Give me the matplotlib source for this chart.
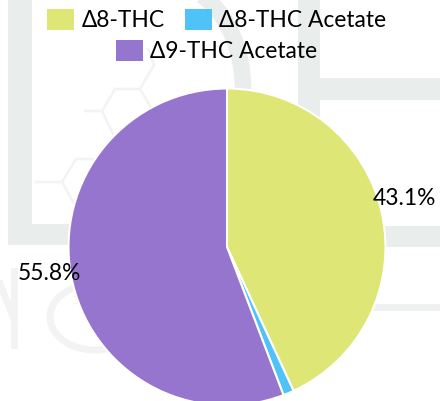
import matplotlib
matplotlib.use('Agg')
import matplotlib.pyplot as plt
from matplotlib.patches import Rectangle, Arc

categories = ['Δ8-THC', 'Δ8-THC Acetate', 'Δ9-THC Acetate']
values = [43.1, 1.1, 55.8]
colors = ['#dee676', '#4fc3f7', '#9575cd']

plt.rcParams['font.family'] = ['Lato', 'DejaVu Sans']
H = 402
fig = plt.figure(figsize=(4.4, 4.02), dpi=100)
ax = fig.add_axes([0, 0, 1, 1])

# faint watermark behind the chart
wm = '#e9edeb'
wm2 = '#f2f3f2'
def band(x0, y0, x1, y1, c=wm):
    ax.add_patch(Rectangle((x0, H - y1), x1 - x0, y1 - y0, color=c, lw=0, zorder=0))
def stroke(pts, lw=1.8):
    ax.plot([p[0] for p in pts], [H - p[1] for p in pts], color=wm2, lw=lw, zorder=0)
band(8, 0, 32, 246)
band(8, 225, 240, 246)
band(298, 0, 320, 120)
band(298, 79, 440, 101)
band(385, 227, 440, 248)
band(370, 305, 440, 312, '#eff0f0')
ax.add_patch(Arc((168, H - 90), 150, 210, theta1=0, theta2=70, color=wm, lw=12, zorder=0))
# lower letters
stroke([(0, 285), (14, 320)], 5)
stroke([(14, 272), (14, 346)], 5)
ax.add_patch(Arc((95, H - 318), 90, 66, theta1=70, theta2=290, color=wm2, lw=5, zorder=0))
# molecule
stroke([(85, 112), (102, 112), (115, 90), (140, 90), (150, 107)])
stroke([(102, 112), (113, 135)])
stroke([(140, 90), (154, 66), (148, 50)])
stroke([(36, 183), (62, 183), (76, 160), (93, 160)])
stroke([(62, 183), (73, 203)])
ax.text(76, 107, 'OH', fontsize=10, rotation=-90, color=wm2, ha='center', va='center', zorder=0)
ax.text(89, 137, 'H', fontsize=10, rotation=-90, color=wm2, ha='center', va='center', zorder=0)

wedges, _ = ax.pie(values, colors=colors, startangle=90, counterclock=False,
                   center=(227, H - 248), radius=158.5, frame=True,
                   wedgeprops={'edgecolor': 'white', 'linewidth': 1.5})
ax.set_xlim(0, 440)
ax.set_ylim(0, H)
ax.set_aspect('equal')
ax.axis('off')
for w in wedges:
    w.set_zorder(2)

ax.text(404.5, H - 199, f'{values[0]}%', fontsize=16.4, ha='center', va='center', color='black', zorder=3)
ax.text(49, H - 273, f'{values[2]}%', fontsize=16.4, ha='center', va='center', color='black', zorder=3)

# legend, two centred rows
leg_pos = [(47, 10, 82), (185, 10, 219), (116, 41, 150)]
for (bx, by, tx), name, c in zip(leg_pos, categories, colors):
    ax.add_patch(Rectangle((bx, H - by - 21), 27, 21, color=c, lw=0, zorder=3))
    ax.text(tx, H - by - 10.5, name, fontsize=16.4, ha='left', va='center', color='black', zorder=3)

fig.savefig('out.png', dpi=100)
